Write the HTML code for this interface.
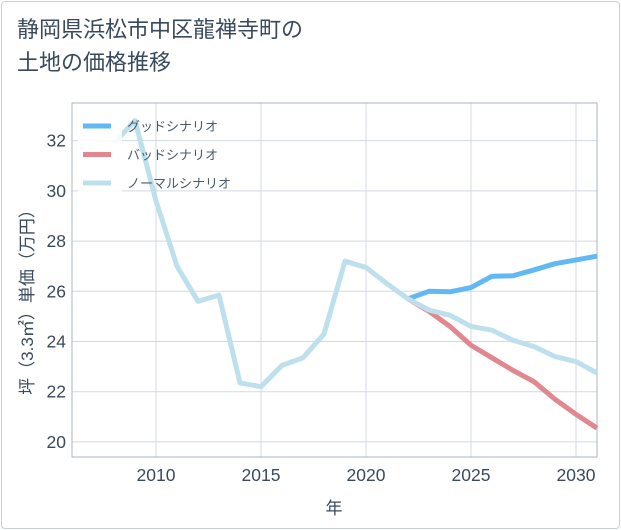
<!DOCTYPE html>
<html><head><meta charset="utf-8">
<style>
body{margin:0;background:#fff;font-family:"Liberation Sans","Noto Sans CJK JP",sans-serif;}
#frame{position:absolute;left:1px;top:1px;width:617px;height:526px;border:1px solid #c8d0da;border-radius:4px;}
#title{position:absolute;left:17px;top:13px;font-size:22px;line-height:33px;color:#3a4a5c;}
</style></head><body>
<div id="frame"></div>
<div id="title">静岡県浜松市中区龍禅寺町の<br>土地の価格推移</div>
<svg id="chart" width="621" height="530" style="position:absolute;left:0;top:0"></svg>
<script>
const years=[2008,2009,2010,2011,2012,2013,2014,2015,2016,2017,2018,2019,2020,2021,2022,2023,2024,2025,2026,2027,2028,2029,2030,2031];
const normal=[31.9,32.8,29.6,27.0,25.6,25.85,22.35,22.2,23.05,23.35,24.3,27.2,26.95,26.3,25.7,25.25,25.05,24.6,24.45,24.05,23.8,23.4,23.2,22.75];
const goodYears=[2022,2023,2024,2025,2026,2027,2028,2029,2030,2031];
const good=[25.7,26.0,25.98,26.15,26.6,26.62,26.85,27.1,27.25,27.4];
const bad=[25.7,25.2,24.6,23.85,23.35,22.85,22.4,21.7,21.1,20.55];
const xTicks=[2010,2015,2020,2025,2030];
const yTicks=[20,22,24,26,28,30,32];
const L=72,R=597,T=103,B=457;
const x=v=>L+(v-2006)*(R-L)/25;
const y=v=>B-(v-19.4)*(B-T)/(33.5-19.4);
const s=document.getElementById('chart');const NS='http://www.w3.org/2000/svg';
function mk(t,a){const e=document.createElementNS(NS,t);for(const k in a)e.setAttribute(k,a[k]);s.appendChild(e);return e;}
for(const v of xTicks){const g=mk('line',{x1:x(v),x2:x(v),y1:T,y2:B,stroke:'#d3dae3','stroke-width':1});

const t=mk('text',{x:x(v),y:481,'text-anchor':'middle','font-size':17.5,fill:'#3a4a5c'});t.textContent=v;
}
for(const v of yTicks){const g=mk('line',{x1:L,x2:R,y1:y(v),y2:y(v),stroke:'#d3dae3','stroke-width':1});

const t=mk('text',{x:66,y:y(v)+6,'text-anchor':'end','font-size':17.5,fill:'#3a4a5c'});t.textContent=v;
}
const ax=mk('rect',{x:L,y:T,width:R-L,height:B-T,fill:'none',stroke:'#aab4c0','stroke-width':1});

function line(xs,ys,c,n){const p=mk('polyline',{points:xs.map((v,i)=>x(v)+','+y(ys[i])).join(' '),fill:'none',stroke:c,'stroke-width':5,'stroke-linejoin':'round'});
}
line(goodYears,bad,'#e0878f','bad-scenario-line');
line(goodYears,good,'#62b8f2','good-scenario-line');
line(years,normal,'#bde0ec','normal-scenario-line');
const lb=mk('rect',{x:78,y:112,width:44,height:80,fill:'#fff','fill-opacity':0.85});

const lg=[['グッドシナリオ','#62b8f2'],['バッドシナリオ','#e0878f'],['ノーマルシナリオ','#bde0ec']];
lg.forEach((d,i)=>{const yy=126+i*28.5;
const l=mk('line',{x1:83,x2:111,y1:yy,y2:yy,stroke:d[1],'stroke-width':5});

const t=mk('text',{x:127,y:yy+5,'font-size':13,fill:'#4a5a6c'});t.textContent=d[0];
});
const xt=mk('text',{x:334,y:514,'text-anchor':'middle','font-size':17,fill:'#3a4a5c'});xt.textContent='年';

const yt=mk('text',{x:0,y:0,'text-anchor':'middle','font-size':17,fill:'#3a4a5c',transform:'translate(33,298) rotate(-90)'});yt.textContent='坪（3.3㎡）単価（万円）';

</script>
</body></html>
